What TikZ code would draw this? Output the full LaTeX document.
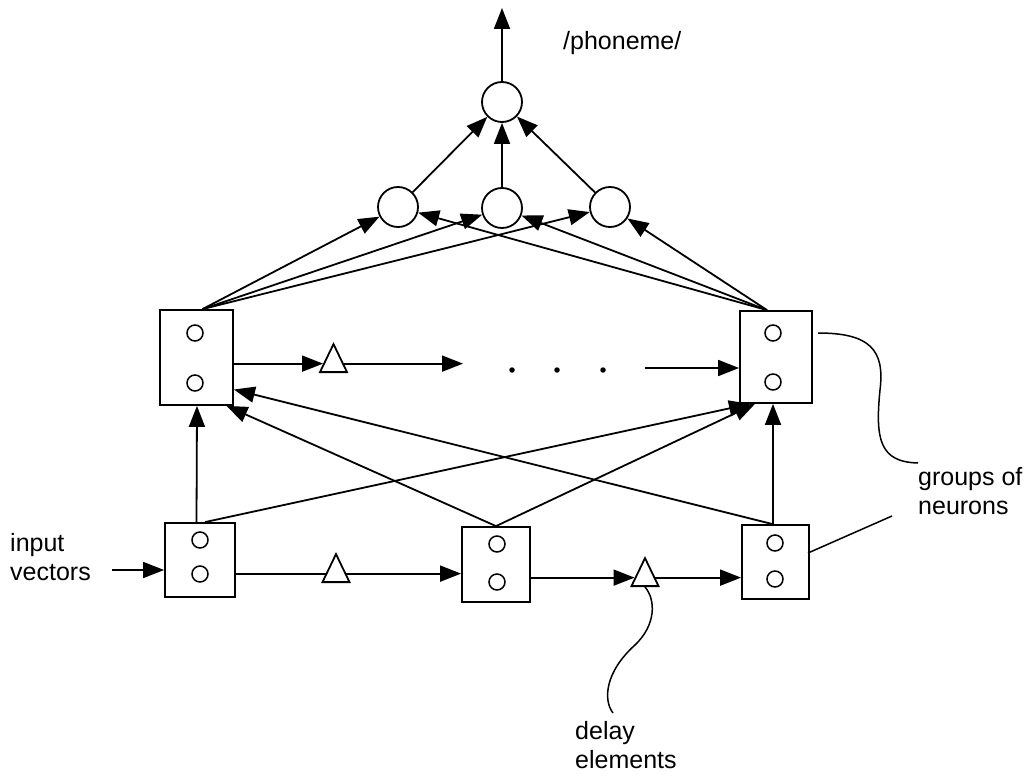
\documentclass[tikz,border=0pt]{standalone}
\usepackage{fontspec}
\setmainfont{Liberation Sans}
\usetikzlibrary{arrows.meta,shapes.geometric,calc}
\begin{document}
\begin{tikzpicture}[x=1pt,y=-1pt,
  lw/.style={line width=1.8pt},
  arr/.style={lw, -{Triangle[length=21pt,width=16pt]}},
  grp/.style={draw, lw, rectangle, inner sep=0},
  neu/.style={draw, line width=1.5pt, circle, minimum size=16pt, inner sep=0},
  unit/.style={draw, lw, circle, minimum size=40pt, inner sep=0},
  dly/.style={draw, lw, isosceles triangle, shape border rotate=90, isosceles triangle stretches, minimum width=27pt, minimum height=28pt, inner sep=0},
  lbl/.style={font=\fontsize{25}{29}\selectfont, align=left, anchor=west, inner sep=0},
  dotn/.style={fill, circle, minimum size=5.5pt, inner sep=0},
  lead/.style={line width=1.5pt}
]
\useasboundingbox (0,0) rectangle (1034,778);

% group boxes
\node[grp, minimum width=73pt, minimum height=95pt] (UL) at (196.5,357.5) {};
\node[grp, minimum width=72pt, minimum height=92pt] (UR) at (776,357) {};
\node[grp, minimum width=70pt, minimum height=74pt] (BL) at (200,560) {};
\node[grp, minimum width=68pt, minimum height=75pt] (BM) at (496,564.5) {};
\node[grp, minimum width=67pt, minimum height=74pt] (BR) at (775.5,562) {};

% neurons in boxes
\node[neu] (ULa) at (195,333) {};
\node[neu] (ULb) at (195,383) {};
\node[neu] (URa) at (773,333) {};
\node[neu] (URb) at (773,382) {};
\node[neu] (BLa) at (200,540) {};
\node[neu] (BLb) at (200,574) {};
\node[neu] (BMa) at (497,544) {};
\node[neu] (BMb) at (497,582) {};
\node[neu] (BRa) at (775,543) {};
\node[neu] (BRb) at (775,579) {};

% hidden / output units
\node[unit] (H1) at (398,207) {};
\node[unit] (H2) at (502,208) {};
\node[unit] (H3) at (610,207) {};
\node[unit] (O) at (502,102) {};

% delay elements
\node[dly, anchor=lower side] (D1) at (333.5,373) {};
\node[dly, anchor=lower side] (D2) at (336,583) {};
\node[dly, anchor=lower side] (D3) at (645,587) {};

% dots
\node[dotn] (p1) at (512,370) {};
\node[dotn] (p2) at (557,370) {};
\node[dotn] (p3) at (603,370) {};

% labels
\node[lbl] (phon) at (563,43) {/phoneme/};
\node[lbl] (inp) at (10,557.5) {input\\vectors};
\node[lbl] (grpl) at (918,491.5) {groups of\\neurons};
\node[lbl] (dell) at (575,745.5) {delay\\elements};

% top output
\coordinate (OUT) at (502,8);
\draw[arr] (O) -- (OUT);
\draw[arr] (H1) -- (O);
\draw[arr] (H2) -- (O);
\draw[arr] (H3) -- (O);

% upper boxes to hidden units
\coordinate (ULt) at ([xshift=6pt]UL.north);
\coordinate (URt) at ([xshift=-9pt]UR.north);
\foreach \h in {H1,H2,H3}{
  \draw[arr] (ULt) -- (\h);
  \draw[arr] (URt) -- (\h);
}

% upper row delay line
\coordinate (E1) at (463,360);
\coordinate (E2) at (645,368);
\draw[arr] (D1.west -| UL.east) -- (D1.west);
\draw[arr] (D1.east) -- (D1.east -| E1);
\draw[arr] (E2) -- (E2 -| UR.west);

% bottom row
\coordinate (IN) at (112,570);
\draw[arr] (IN) -- (IN -| BL.west);
\draw[lw] (D2.west -| BL.east) -- (D2.west);
\draw[arr] (D2.east) -- (D2.east -| BM.west);
\draw[arr] (D3.west -| BM.east) -- (D3.west);
\draw[arr] (D3.east) -- (D3.east -| BR.west);

% bottom to upper
\draw[arr] ([xshift=-3.5pt]BL.north) -- ([xshift=0.5pt]UL.south);
\draw[arr] ([xshift=5pt]BL.north) -- ([xshift=-26pt]UR.south);
\draw[arr] (BM.north) -- ([xshift=30pt]UL.south);
\draw[arr] (BM.north) -- ([xshift=-21pt]UR.south);
\draw[arr] ([xshift=-3pt]BR.north) -- ([yshift=-32pt]UL.east);
\draw[arr] ([xshift=-3pt]UR.south |- BR.north) -- ([xshift=-3pt]UR.south);

% leaders
\coordinate (G1) at (818,333);
\coordinate (G2) at (918,463);
\draw[lead] (G1) .. controls (870,333) and (885,350) .. (880,390)
  .. controls (875,440) and (880,462) .. (G2);
\coordinate (G3) at (808,553);
\coordinate (G4) at (892,516);
\draw[lead] (G3) -- (G4);
\coordinate (L1) at (613,713);
\draw[lead] (D3.lower side) .. controls (656,600) and (656,625) .. (635,645)
  .. controls (605,672) and (603,700) .. (L1);
\end{tikzpicture}
\end{document}
